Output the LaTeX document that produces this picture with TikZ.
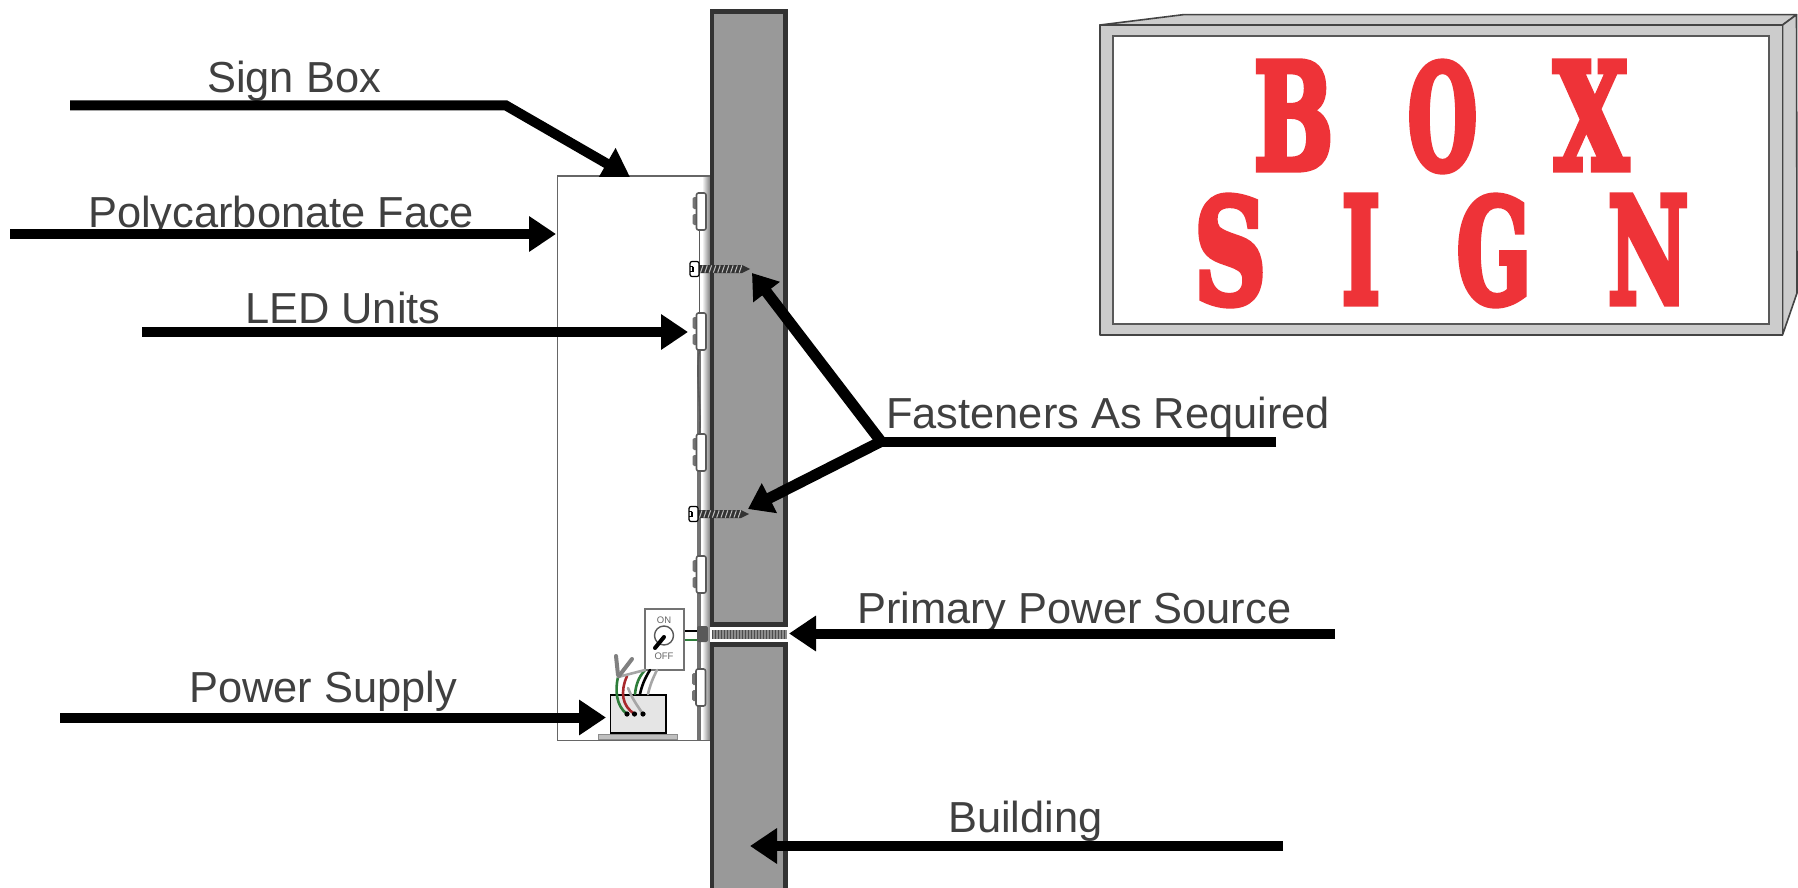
\documentclass[tikz,border=0pt]{standalone}
\usepackage{fontspec}
\usepackage{graphicx}
\usetikzlibrary{arrows.meta,shadings}
\setmainfont{Liberation Sans}
\newfontfamily\signfont[BoldFeatures={FakeBold=5}]{DejaVu Serif}
\definecolor{labelgray}{HTML}{404040}
\definecolor{wallfill}{HTML}{999999}
\definecolor{wallline}{HTML}{333333}
\definecolor{signred}{HTML}{EE3338}
\definecolor{framegray}{HTML}{CCCCCC}
\definecolor{framedark}{HTML}{444444}
\definecolor{wiregreen}{HTML}{2E7D3A}
\definecolor{wirered}{HTML}{A8282C}
\newcommand{\signchar}[2]{\resizebox{#1pt}{107pt}{\signfont\bfseries #2}}
\tikzset{
  lbl/.style={anchor=base west,inner sep=0pt,text=labelgray,font=\fontsize{43.4}{50}\selectfont},
  lead/.style={line width=10pt,-{Triangle[length=27pt,width=34pt]}},
  leadskew/.style={line width=11pt,-{Triangle[length=24pt,width=32pt]}},
  wall/.style={fill=wallfill,draw=wallline,line width=4.6pt},
  frameface/.style={fill=framegray,draw=framedark,line width=1.6pt,line join=round},
  signline/.style={anchor=base west,inner sep=0pt,text=signred},
  ledbody/.style={fill=white,draw=black!65,line width=1.6pt,rounded corners=2pt},
  ledlump/.style={fill=black!55,draw=none,rounded corners=1.5pt},
  wire/.style={line width=2.6pt,line cap=round},
  wirenut/.style={line width=4pt,draw=black!50,line cap=round},
  screwhead/.style={fill=white,draw=black,line width=1.2pt,rounded corners=2pt},
  pics/ledunit/.style={code={
    \fill[ledlump] (-4,4) rectangle (1,16);
    \fill[ledlump] (-4,21) rectangle (1,32);
    \path[ledbody] (0,0) rectangle (9.5,37);
  }},
  pics/screw/.style={code={
    \fill[black!80] (9,-4) -- (52,-4) -- (60,0) -- (52,4) -- (9,4) -- cycle;
    \foreach \k in {0,...,9}{
      \draw[white!75!black,line width=1pt] ({10.5+4.3*\k},3.6) -- ({13+4.3*\k},-3.6);
    }
    \path[screwhead] (0,-7.5) rectangle (9,7.5);
    \draw[black,line width=1.2pt] (3,-2.5) -- (0,-2.5) (3,2.5) -- (0,2.5) (3,-2.5) -- (3,2.5);
  }}
}
\begin{document}
\begin{tikzpicture}[x=1pt,y=-1pt]
\useasboundingbox (0,0) rectangle (1798,888);
\fill[white] (0,0) rectangle (1798,888);

% sign box (section)
\draw[black!60,line width=1.4pt,fill=white] (557.5,176) rectangle (711,740.5);
\shade[left color=white,right color=black!50] (702,177) rectangle (710,739.5);
\fill[black!55] (697,350) rectangle (700.5,740);
\draw[black!65,line width=1.6pt] (699.5,231) -- (699.5,313);
\draw[black!65,line width=1.6pt] (699.5,350) .. controls (695,375) and (702,410) .. (699.5,435);

% LED units
\pic at (696.5,193) {ledunit};
\pic at (696.5,313) {ledunit};
\pic at (696.5,434) {ledunit};
\pic at (696.5,556) {ledunit};
\pic at (696,669) {ledunit};

% building
\path[wall] (712,11.5) rectangle (785.5,624.5);
\path[wall] (712,644.5) rectangle (785.5,900);

% conduit through wall
\fill[white] (710,627) rectangle (787,642);
\fill[black!45] (712,630) rectangle (787,639);
\foreach \k in {0,...,24}{
  \draw[black!70,line width=.8pt] ({712+3*\k},630) -- ({712+3*\k},639);
}
\fill[black!65,rounded corners=2pt] (697,626) rectangle (708,642);
\draw[black,line width=2.8pt] (684,631) -- (697,631);
\draw[wiregreen,line width=2.8pt] (684,640) -- (697,640);

% fasteners
\pic at (690,269) {screw};
\pic at (689,514) {screw};

% switch
\draw[black!55,line width=1.3pt,fill=white] (645,609) rectangle (684,670);
\node[inner sep=0pt,text=black!60,font=\fontsize{9.5}{10}\selectfont] (onlabel) at (664,620.5) {ON};
\node[inner sep=0pt,text=black!60,font=\fontsize{9.5}{10}\selectfont] (offlabel) at (664,656) {OFF};
\draw[black!65,line width=1.4pt] (664,635.5) circle (9.5);
\draw[black,line width=4pt,line cap=round] (655,648) -- (664,637);

% power supply
\fill[black!25,draw=black!45,line width=.8pt] (598,734) rectangle (677,739);
\draw[black,line width=1.6pt,fill=black!10] (610.5,695) rectangle (666,733);
\draw[wire,draw=black!35] (643,714) .. controls (636,704) and (632,698) .. (628,688);
\draw[wire,draw=wirered] (634.5,714) .. controls (622,706) and (620,692) .. (627,676);
\draw[wire,draw=wiregreen] (627,714) .. controls (616,706) and (615,690) .. (618,677);
\draw[wire,draw=wiregreen] (645,670) .. controls (638,678) and (636,685) .. (635,694);
\draw[wire,draw=black] (650,670) .. controls (645,678) and (642,685) .. (640,694);
\draw[wire,draw=black!35] (657,670) .. controls (653,678) and (650,685) .. (648,694);
\draw[wire,draw=black!35] (645,670) -- (618,677);
\draw[wirenut] (618,675) -- (616,656);
\draw[wirenut] (619,676) -- (632,659);
\fill[black] (627,714) circle (2.6) (634.5,714) circle (2.6) (643,714) circle (2.6);

% sign front view
\draw[frameface] (1100,25) -- (1183,14.7) -- (1796.5,14.7) -- (1782.5,25) -- cycle;
\draw[frameface] (1782.5,25) -- (1796.5,14.7) -- (1797,293) -- (1782.5,335) -- cycle;
\draw[frameface] (1100,25) rectangle (1782.5,335);
\draw[fill=white,draw=black!65,line width=1.6pt] (1112.7,36) rectangle (1769,324);
\node[signline] (signfirst) at (1253.5,169) {\signchar{79.5}{B}\hspace{74.5pt}\signchar{69.5}{O}\hspace{76.5pt}\signchar{74.5}{X}};
\node[signline] (signsecond) at (1194,303) {\signchar{72}{S}\hspace{75.7pt}\signchar{38}{I}\hspace{76.7pt}\signchar{74.6}{G}\hspace{76.6pt}\signchar{80.6}{N}};

% labels
\node[lbl] (tbox) at (207,93) {Sign Box};
\node[lbl] (tface) at (88,227) {Polycarbonate Face};
\node[lbl] (tled) at (245,323.5) {LED Units};
\node[lbl] (tfast) at (886,428) {Fasteners As Required};
\node[lbl] (tprim) at (857,623) {Primary Power Source};
\node[lbl] (tpsu) at (189,702) {Power Supply};
\node[lbl] (tbldg) at (948,832.5) {Building};

% leaders
\coordinate (aBoxA) at (70,105.5);
\coordinate (aBoxB) at (506,105.5);
\coordinate (aBoxC) at (630,177);
\coordinate (aFaceA) at (10,234);
\coordinate (aFaceB) at (556,234);
\coordinate (aLedA) at (142,332);
\coordinate (aLedB) at (688,332);
\coordinate (aFastA) at (1276,441.5);
\coordinate (aFastB) at (881,441.5);
\coordinate (aFastC) at (752,273);
\coordinate (aFastD) at (748,509);
\coordinate (aPrimA) at (1335,633.5);
\coordinate (aPrimB) at (789,633.5);
\coordinate (aPsuA) at (60,717.5);
\coordinate (aPsuB) at (606,717.5);
\coordinate (aBldgA) at (1283,846);
\coordinate (aBldgB) at (750,846);

\begin{scope}
\clip (0,0) rectangle (1798,176);
\draw[lead,line join=miter] (aBoxA) -- (aBoxB) -- (aBoxC);
\end{scope}
\draw[lead] (aFaceA) -- (aFaceB);
\draw[lead] (aLedA) -- (aLedB);
\draw[line width=10pt] (aFastA) -- (aFastB);
\draw[leadskew] (aFastB) -- (aFastC);
\draw[leadskew] (aFastB) -- (aFastD);
\draw[lead] (aPrimA) -- (aPrimB);
\draw[lead] (aPsuA) -- (aPsuB);
\draw[lead] (aBldgA) -- (aBldgB);
\end{tikzpicture}
\end{document}
